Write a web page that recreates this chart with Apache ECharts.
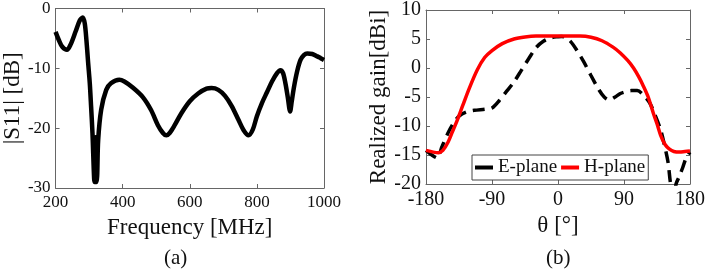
<!DOCTYPE html>
<html>
<head>
<meta charset="utf-8">
<script src="https://cdn.jsdelivr.net/npm/echarts@6/dist/echarts.min.js"></script>
<style>
  html, body { margin: 0; padding: 0; background: #fff; }
  #main { width: 708px; height: 270px; }
</style>
</head>
<body>
<div id="main"></div>
<script>
// (a) |S11| vs frequency
var freq = [200, 210, 220, 234, 245, 260, 272, 281, 287, 292, 297, 302, 306, 310, 315, 317, 319.5, 322, 324,
    327, 336, 351, 365, 390, 405, 430, 460, 485, 505, 520, 530, 540, 555, 575, 600, 625, 650, 665, 685,
    705, 725, 745, 760, 775, 788, 800, 815, 830, 845, 860, 870, 878, 885, 892, 899, 904, 910, 920, 930,
    940, 950, 965, 980, 990, 1000];
var s11 = [-3.9, -5.3, -6.4, -6.9, -6.0, -3.8, -2.0, -1.5, -2.5, -5.3, -9.0, -12.5, -16.5, -20.8, -28.5, -29.0, -21.5, -29.0, -28.0,
    -22.0, -16.9, -13.6, -12.5, -11.9, -12.2, -13.2, -14.8, -17.0, -19.5, -20.8, -21.2, -20.8, -19.5, -17.5, -15.5, -14.2, -13.4, -13.3, -13.6,
    -14.6, -16.3, -18.6, -20.3, -21.2, -20.2, -18.0, -15.8, -14.0, -12.2, -10.8, -10.3, -10.8, -12.5, -14.8, -17.2, -15.5, -13.3, -10.5, -8.6,
    -7.8, -7.5, -7.6, -8.0, -8.3, -8.6];

// (b) realized gain vs theta
var thetaE = [-180, -172, -165, -158, -150, -143, -135, -125, -114, -100, -90, -80, -70, -60, -50, -40, -30, -20, -10, 0, 5, 10,
    17, 25, 35, 45, 56, 63, 70, 78, 85, 92, 100, 108, 116, 125, 133, 140, 145, 150, 153, 156, 158.5, 161, 165, 170, 175, 180];
var gainE = [-14.2, -15.0, -15.5, -13.5, -11.2, -9.6, -8.3, -7.6, -7.3, -7.1, -6.9, -5.6, -4.0, -2.4, -0.4, 1.6, 3.5, 4.6, 5.2, 5.4, 5.45, 5.3,
    4.6, 3.2, 1.1, -1.3, -3.8, -5.0, -5.5, -5.0, -4.4, -4.1, -3.9, -3.9, -4.6, -6.0, -8.3, -10.7, -13.2, -16.2, -19.5, -22, -22.5, -20, -18.8, -17.2, -15.4, -14.5];

var thetaH = [-180, -170, -163, -157, -150, -144, -138, -130, -121, -110, -100, -90, -76, -60, -45, -30, 0, 30, 45, 60,
    75, 85, 95, 103, 110, 116, 123, 130, 135, 140, 146, 152, 158, 166, 173, 180];
var gainH = [-14.2, -14.5, -14.6, -14.2, -12.8, -11.0, -9.2, -6.5, -3.5, -0.3, 1.8, 3.0, 4.2, 5.0, 5.35, 5.5, 5.5, 5.5, 5.3, 4.7,
    3.6, 2.6, 1.3, 0.0, -1.5, -3.0, -5.0, -7.8, -9.6, -11.6, -13.2, -14.0, -14.4, -14.5, -14.4, -14.3];

function pairs(xs, ys) {
    return xs.map(function (x, i) { return [x, ys[i]]; });
}

var FONT = 'Liberation Serif';
var axisColor = '#666';

function mainAxis(opt) {
    return Object.assign({
        type: 'value',
        axisLine: { show: true, onZero: false, lineStyle: { color: axisColor, width: 1 } },
        axisTick: { show: true, inside: true, length: 4, lineStyle: { color: axisColor } },
        splitLine: { show: false },
        axisLabel: { color: '#111', fontFamily: FONT, fontSize: 17, margin: 6, formatter: function (v) { return String(v); } },
        nameLocation: 'middle',
        nameTextStyle: { color: '#111', fontFamily: FONT, fontSize: 23 }
    }, opt);
}
// box side (no labels, ticks only)
function sideAxis(opt) {
    return Object.assign({
        type: 'value',
        axisLine: { show: true, onZero: false, lineStyle: { color: axisColor, width: 1 } },
        axisTick: { show: true, inside: true, length: 4, lineStyle: { color: axisColor } },
        splitLine: { show: false },
        axisLabel: { show: false }
    }, opt);
}
function lbl(size, margin) {
    return { color: '#111', fontFamily: FONT, fontSize: size, margin: margin, formatter: function (v) { return String(v); } };
}

var chart = echarts.init(document.getElementById('main'));
var option = {
    animation: false,
    title: [
        { text: '(a)', left: 164, top: 248, padding: 0, textStyle: { fontFamily: FONT, fontSize: 21, fontWeight: 'normal', color: '#111' } },
        { text: '(b)', left: 546, top: 248, padding: 0, textStyle: { fontFamily: FONT, fontSize: 21, fontWeight: 'normal', color: '#111' } }
    ],
    grid: [
        { left: 50, top: 8, width: 274, height: 180 },
        { left: 426, top: 7, width: 268, height: 177 }
    ],
    legend: {
        data: ['E-plane', 'H-plane'],
        left: 472, top: 155,
        padding: [3, 3],
        itemGap: 4,
        icon: 'rect',
        itemWidth: 18,
        itemHeight: 4,
        borderColor: '#444',
        borderWidth: 1,
        backgroundColor: '#fff',
        textStyle: { fontFamily: FONT, fontSize: 19, color: '#111' }
    },
    xAxis: [
        mainAxis({ gridIndex: 0, min: 200, max: 1000, interval: 200, name: 'Frequency [MHz]', nameGap: 28, axisLabel: lbl(17, 6) }),
        sideAxis({ gridIndex: 0, min: 200, max: 1000, interval: 200, position: 'top' }),
        mainAxis({ gridIndex: 1, min: -180, max: 180, interval: 90, name: 'θ [°]', nameGap: 28, axisLabel: lbl(20, 6) }),
        sideAxis({ gridIndex: 1, min: -180, max: 180, interval: 90, position: 'top' })
    ],
    yAxis: [
        mainAxis({ gridIndex: 0, min: -30, max: 0, interval: 10, name: '|S11| [dB]', nameGap: 29, axisLabel: lbl(17, 5) }),
        sideAxis({ gridIndex: 0, min: -30, max: 0, interval: 10, position: 'right' }),
        mainAxis({ gridIndex: 1, min: -20, max: 10, interval: 5, name: 'Realized gain[dBi]', nameGap: 33, axisLabel: lbl(20, 5) }),
        sideAxis({ gridIndex: 1, min: -20, max: 10, interval: 5, position: 'right' })
    ],
    series: [
        {
            name: '|S11|', type: 'line', xAxisIndex: 0, yAxisIndex: 0,
            data: pairs(freq, s11), symbol: 'none', smooth: 0.3,
            lineStyle: { color: '#000', width: 4.5 }, itemStyle: { color: '#000' }
        },
        {
            name: 'E-plane', type: 'line', xAxisIndex: 2, yAxisIndex: 2,
            data: pairs(thetaE, gainE), symbol: 'none', smooth: 0.3,
            lineStyle: { color: '#000', width: 3.5, type: [12, 7] }, itemStyle: { color: '#000' }
        },
        {
            name: 'H-plane', type: 'line', xAxisIndex: 2, yAxisIndex: 2,
            data: pairs(thetaH, gainH), symbol: 'none', smooth: 0.3,
            lineStyle: { color: '#ff0000', width: 3.5 }, itemStyle: { color: '#ff0000' }
        }
    ]
};
chart.setOption(option);
</script>
</body>
</html>
